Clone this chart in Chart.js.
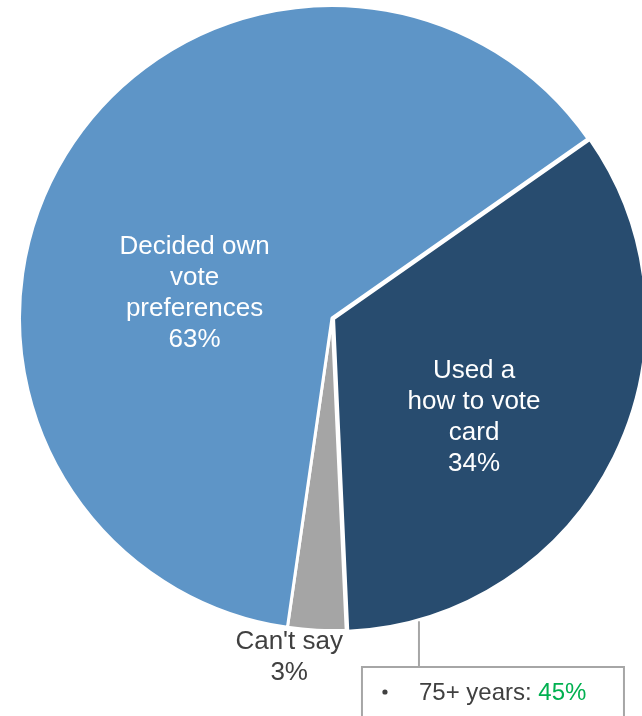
<!DOCTYPE html>
<html>
<head>
<meta charset="utf-8">
<script src="https://cdn.jsdelivr.net/npm/chart.js@4/dist/chart.umd.min.js"></script>
<style>
  html, body { margin: 0; padding: 0; background: #ffffff; }
  #wrap { position: relative; width: 642px; height: 716px; overflow: hidden; }
  canvas { display: block; }
</style>
</head>
<body>
<div id="wrap"><canvas id="chart" width="642" height="716"></canvas></div>
<script>
// How voters decided their preferences
const categories = ['Used a how to vote card', "Can't say", 'Decided own vote preferences'];
const shares = [34, 3, 63];
const labelLines = [['Used a', 'how to vote', 'card'], ["Can't say"], ['Decided own', 'vote', 'preferences']];

// Sub-group note attached to the "how to vote card" slice
const calloutGroup = '75+ years';
const calloutShare = 45;

const sliceColors = ['#284c6f', '#a5a5a5', '#5e95c7'];
const labelColors = ['#ffffff', '#404040', '#ffffff'];
// label placement: angle shift from slice middle (deg), distance as fraction of radius
const labelPlace = [
  { shift: 8.8, frac: 0.555 },
  { shift: 4.4, frac: 1.093 },
  { shift: -21.3, frac: 0.447 }
];

const FONT = '"Liberation Sans", Arial, sans-serif';

const sliceLabels = {
  id: 'sliceLabels',
  afterDatasetsDraw(chart) {
    const ctx = chart.ctx;
    const meta = chart.getDatasetMeta(0);
    ctx.save();
    ctx.font = '26px ' + FONT;
    ctx.textAlign = 'center';
    ctx.textBaseline = 'middle';
    const lh = 31;
    meta.data.forEach((arc, i) => {
      const p = arc.getProps(['x', 'y', 'startAngle', 'endAngle', 'outerRadius'], true);
      const mid = (p.startAngle + p.endAngle) / 2 + labelPlace[i].shift * Math.PI / 180;
      const d = p.outerRadius * labelPlace[i].frac;
      const cx = p.x + Math.cos(mid) * d;
      const cy = p.y + Math.sin(mid) * d;
      const lines = labelLines[i].concat([shares[i] + '%']);
      const top = cy - (lines.length - 1) * lh / 2;
      ctx.fillStyle = labelColors[i];
      lines.forEach((t, k) => ctx.fillText(t, cx, top + k * lh));
    });

    // callout below the "how to vote card" slice
    const arc = meta.data[0].getProps(['x', 'y', 'outerRadius'], true);
    const a = (164 - 90) * Math.PI / 180;
    const lx = arc.x + Math.cos(a) * (arc.outerRadius + 3);
    const ly = arc.y + Math.sin(a) * (arc.outerRadius + 3);
    const boxTop = 667;
    ctx.strokeStyle = '#a6a6a6';
    ctx.lineWidth = 2;
    ctx.beginPath();
    ctx.moveTo(lx, ly);
    ctx.lineTo(lx, boxTop);
    ctx.stroke();
    const boxLeft = lx - 57;
    ctx.strokeRect(boxLeft, boxTop, 262, 120);

    ctx.font = '24px ' + FONT;
    ctx.textAlign = 'left';
    ctx.textBaseline = 'alphabetic';
    ctx.fillStyle = '#404040';
    ctx.beginPath();
    ctx.arc(boxLeft + 23, 692, 2.6, 0, Math.PI * 2);
    ctx.fill();
    const txt = calloutGroup + ': ';
    ctx.fillText(txt, lx, 700);
    const w = ctx.measureText(txt).width;
    ctx.fillStyle = '#00b050';
    ctx.fillText(calloutShare + '%', lx + w, 700);
    ctx.restore();
  }
};

new Chart(document.getElementById('chart'), {
  type: 'pie',
  data: {
    labels: categories,
    datasets: [{
      data: shares,
      backgroundColor: sliceColors,
      borderColor: '#ffffff',
      borderWidth: 3,
      offset: [7, 0, 0],
      hoverOffset: 0
    }]
  },
  options: {
    responsive: false,
    animation: false,
    events: [],
    rotation: 55,
    radius: 312.5,
    layout: { padding: { left: 22, right: 0, top: 7, bottom: 87 } },
    plugins: {
      legend: { display: false },
      tooltip: { enabled: false }
    }
  },
  plugins: [sliceLabels]
});
</script>
</body>
</html>
